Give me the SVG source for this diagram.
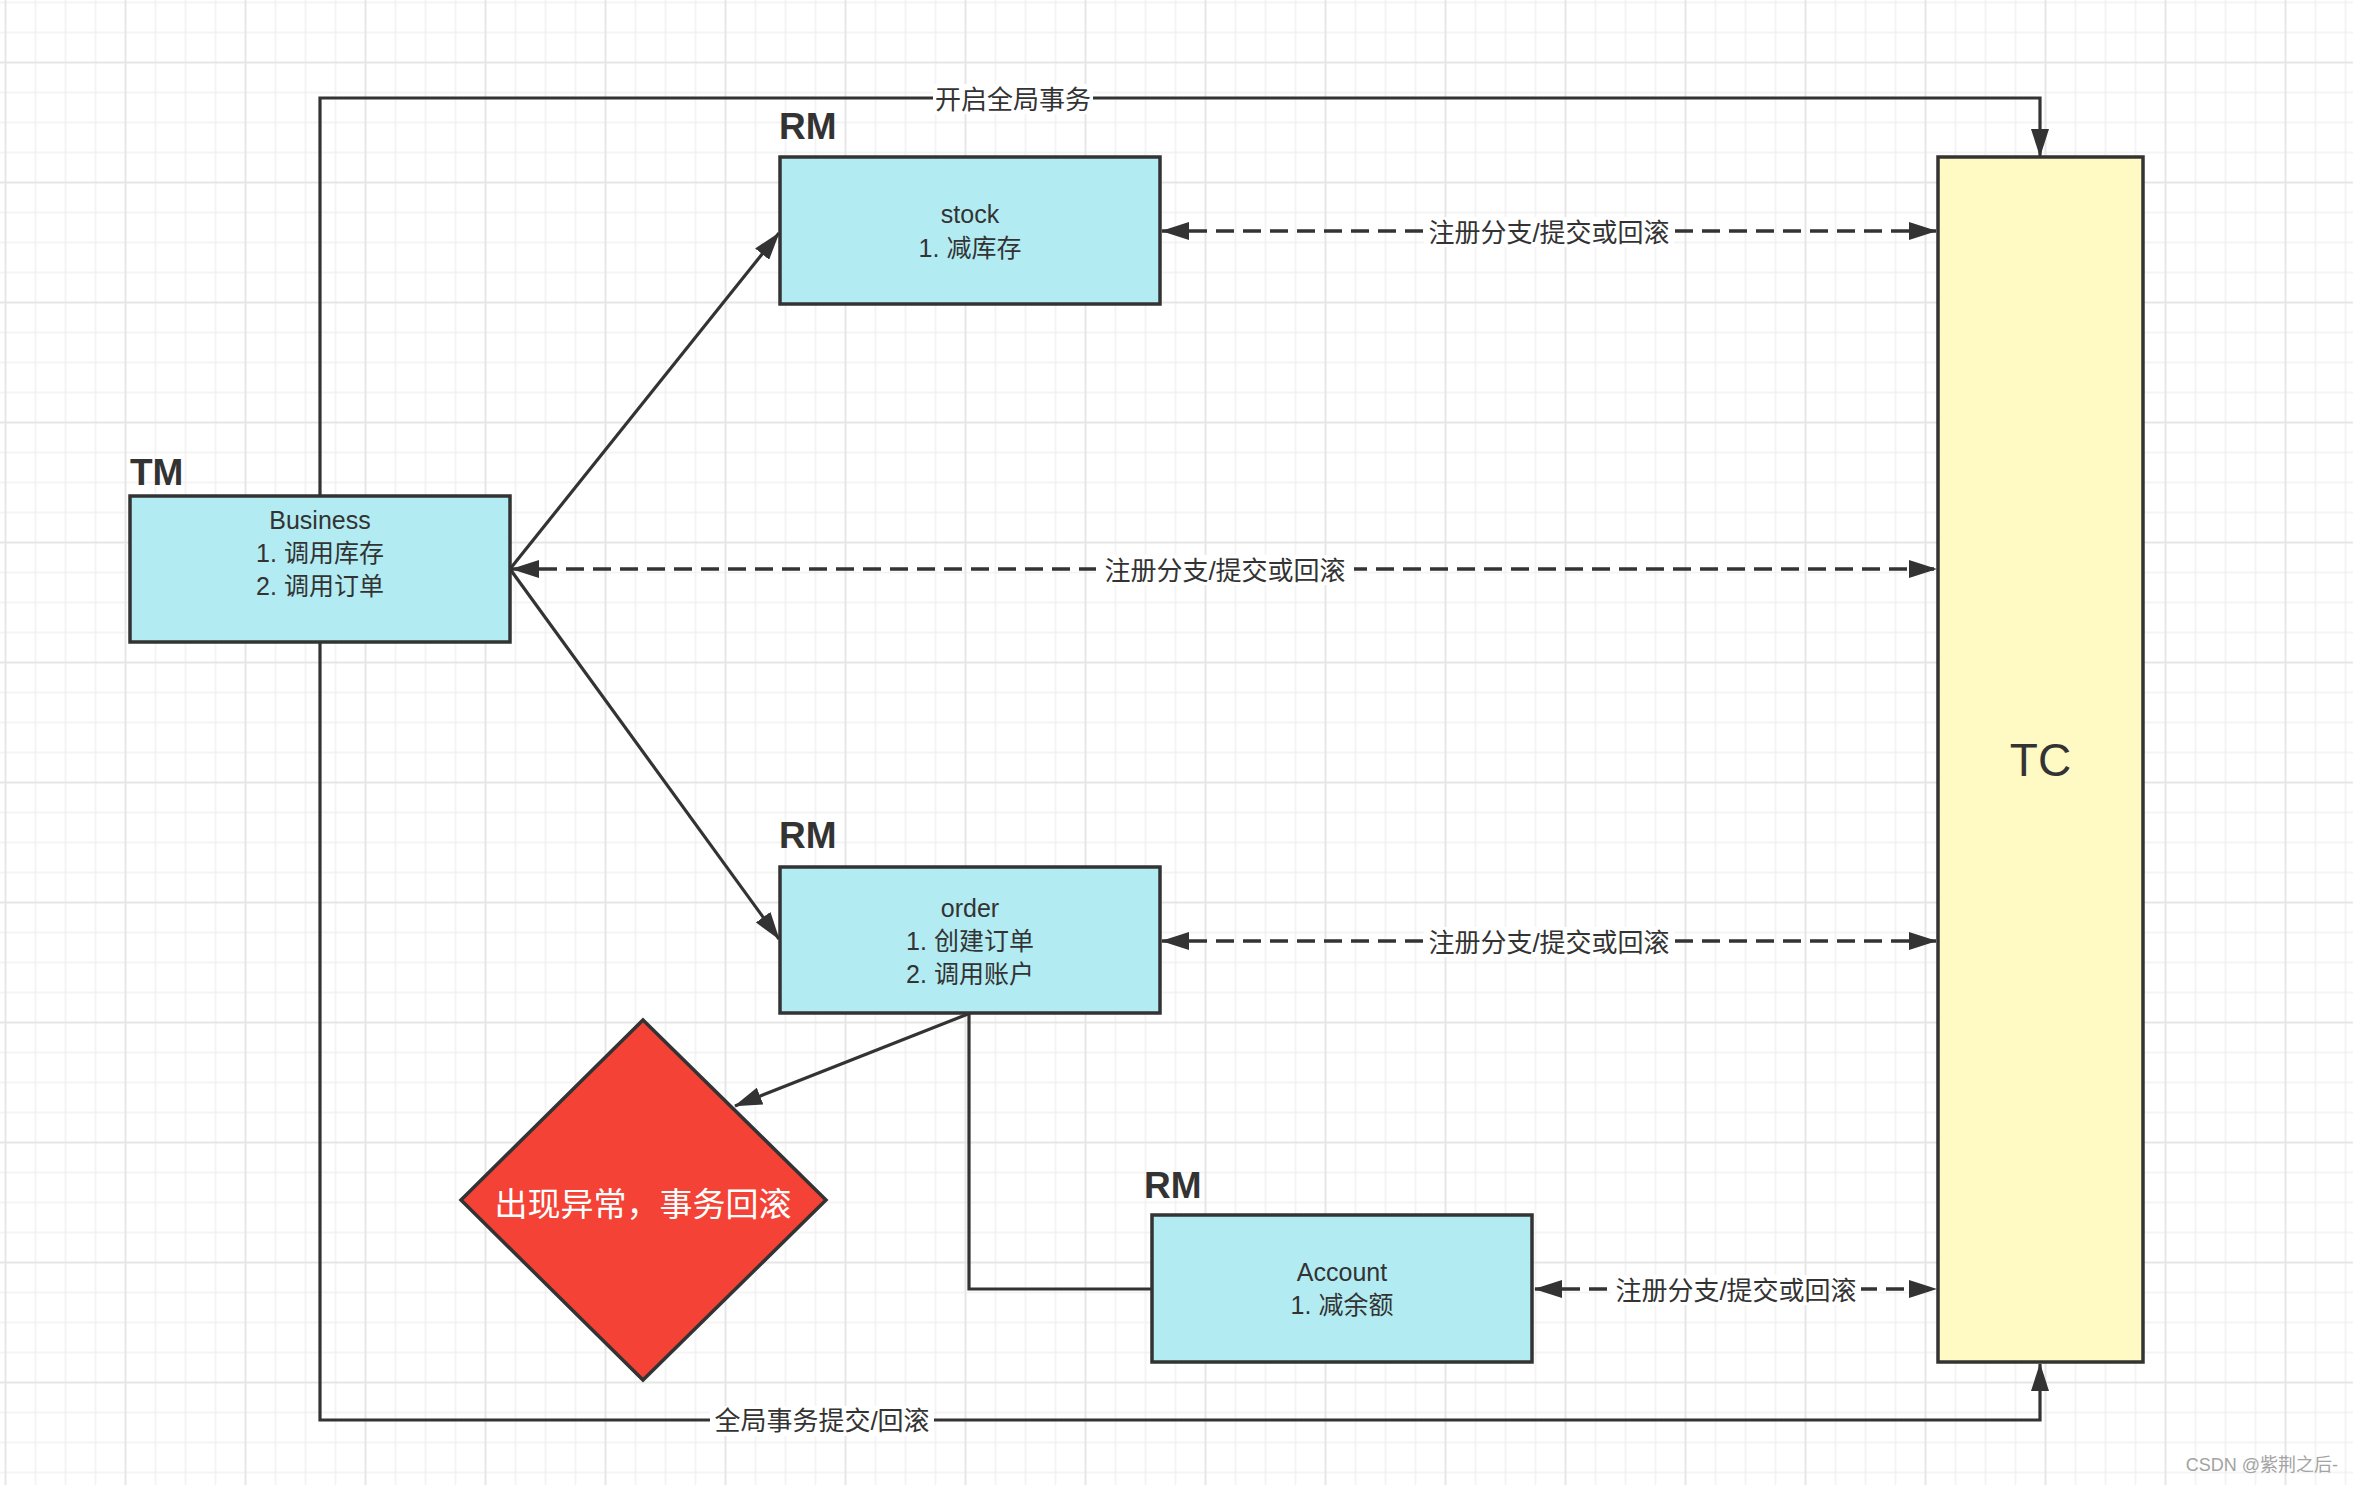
<svg xmlns="http://www.w3.org/2000/svg" width="2353" height="1485" viewBox="0 0 2353 1485">
<defs>
<pattern id="grid" patternUnits="userSpaceOnUse" x="-9.5" y="47.5" width="120" height="120">
<path d="M45 0V120M75 0V120M105 0V120M0 45H120M0 75H120M0 105H120" stroke="#f1f1f1" stroke-width="1.5" fill="none"/>
<path d="M15 0V120M0 15H120" stroke="#e6e6e6" stroke-width="2" fill="none"/>
</pattern>
<marker id="arr" markerUnits="userSpaceOnUse" markerWidth="28" markerHeight="18" refX="27" refY="9" orient="auto-start-reverse" viewBox="0 0 28 18">
<path d="M0,0 L28,9 L0,18 Z" fill="#333"/>
</marker>
<style>
text{font-family:'Liberation Sans','Noto Sans CJK SC',sans-serif;fill:#333}
.box{fill:#b2ebf2;stroke:#333;stroke-width:3.5}
.t{font-size:25px;text-anchor:middle}
.role{font-size:37px;font-weight:bold}
.ln{fill:none;stroke:#333;stroke-width:3.2}
.dash{fill:none;stroke:#333;stroke-width:3.5;stroke-dasharray:18 9}
.lbl{font-size:26px;text-anchor:middle}
.bg{fill:#fff}
</style>
</defs>
<rect width="2353" height="1485" fill="#fff"/>
<rect width="2353" height="1485" fill="url(#grid)"/>

<g id="connectors">
<path class="ln" d="M320 496V98H2040V156" marker-end="url(#arr)"/>
<path class="ln" d="M320 642V1420H2040V1364" marker-end="url(#arr)"/>
<path class="ln" d="M510 569L779 233" marker-end="url(#arr)"/>
<path class="ln" d="M510 569L779 939" marker-end="url(#arr)"/>
<path class="ln" d="M969 1014V1289H1151"/>
<path class="ln" d="M968 1014L735 1106" marker-end="url(#arr)"/>
<path class="dash" d="M512 569H1936" marker-start="url(#arr)" marker-end="url(#arr)"/>
<path class="dash" d="M1162 231H1936" marker-start="url(#arr)" marker-end="url(#arr)"/>
<path class="dash" d="M1162 941H1936" marker-start="url(#arr)" marker-end="url(#arr)"/>
<path class="dash" d="M1535 1289H1936" marker-start="url(#arr)" marker-end="url(#arr)"/>
<rect class="bg" x="933" y="84" width="160" height="30"/>
<text class="lbl" x="1013" y="109">开启全局事务</text>
<rect class="bg" x="710" y="1406" width="224" height="30"/>
<text class="lbl" x="822" y="1430">全局事务提交/回滚</text>
<rect class="bg" x="1096" y="555" width="258" height="30"/>
<text class="lbl" x="1225" y="580">注册分支/提交或回滚</text>
<rect class="bg" x="1424" y="217" width="250" height="30"/>
<text class="lbl" x="1549" y="242">注册分支/提交或回滚</text>
<rect class="bg" x="1424" y="927" width="250" height="30"/>
<text class="lbl" x="1549" y="952">注册分支/提交或回滚</text>
<rect class="bg" x="1611" y="1275" width="250" height="30"/>
<text class="lbl" x="1736" y="1300">注册分支/提交或回滚</text>
</g>

<g id="tm">
<text class="role" x="130" y="485">TM</text>
<rect class="box" x="130" y="496" width="380" height="146"/>
<text class="t" x="320" y="529">Business</text>
<text class="t" x="320" y="562">1. 调用库存</text>
<text class="t" x="320" y="595">2. 调用订单</text>
</g>

<g id="stock">
<text class="role" x="779" y="139">RM</text>
<rect class="box" x="780" y="157" width="380" height="147"/>
<text class="t" x="970" y="223">stock</text>
<text class="t" x="970" y="257">1. 减库存</text>
</g>

<g id="order">
<text class="role" x="779" y="848">RM</text>
<rect class="box" x="780" y="867" width="380" height="146"/>
<text class="t" x="970" y="917">order</text>
<text class="t" x="970" y="950">1. 创建订单</text>
<text class="t" x="970" y="983">2. 调用账户</text>
</g>

<g id="account">
<text class="role" x="1144" y="1198">RM</text>
<rect class="box" x="1152" y="1215" width="380" height="147"/>
<text class="t" x="1342" y="1281">Account</text>
<text class="t" x="1342" y="1314">1. 减余额</text>
</g>

<g id="tc">
<rect x="1938" y="157" width="205" height="1205" fill="#fff9c4" stroke="#333" stroke-width="3.5"/>
<text x="2040.5" y="776" font-size="46" text-anchor="middle">TC</text>
</g>

<g id="exception">
<polygon points="643,1020 826,1200 643,1380 461,1200" fill="#f44336" stroke="#333" stroke-width="3.5"/>
<text x="643" y="1216" font-size="33" text-anchor="middle" style="fill:#fff">出现异常，事务回滚</text>
</g>

<text x="2338" y="1471" font-size="18" text-anchor="end" style="fill:#a3a3a3">CSDN @紫荆之后-</text>
</svg>
